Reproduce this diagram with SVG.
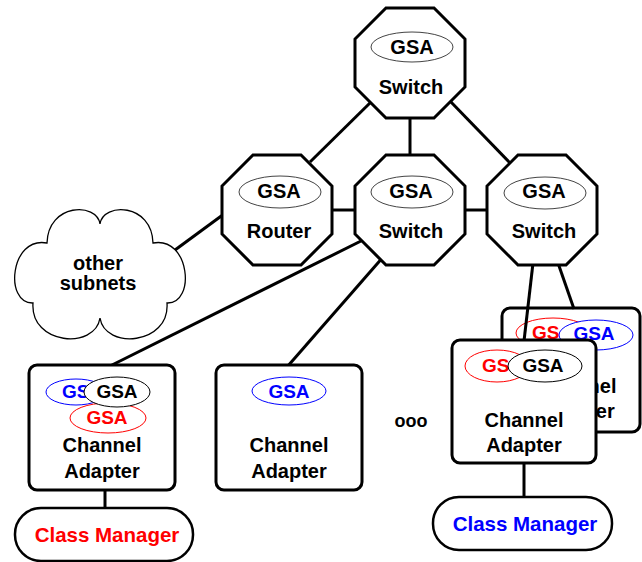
<svg xmlns="http://www.w3.org/2000/svg" xmlns:xlink="http://www.w3.org/1999/xlink" width="642" height="562" viewBox="0 0 642 562">
<style>
.oct{fill:#fff;stroke:#000;stroke-width:3;stroke-linejoin:miter}
.box{fill:#fff;stroke:#000;stroke-width:3}
.pill{fill:#fff;stroke:#000;stroke-width:2.5}
.cloud{fill:#fff;stroke:#000;stroke-width:1.3}
.conn line{stroke:#000;stroke-width:3}
.ge{fill:#fff;stroke:#444;stroke-width:1}
.er{fill:#fff;stroke:#f00;stroke-width:1}
.eb{fill:#fff;stroke:#00f;stroke-width:1}
.ek{fill:#fff;stroke:#000;stroke-width:1}
text{font-family:"Liberation Sans",Arial,sans-serif;font-weight:bold;font-size:20px;fill:#000}
.c{text-anchor:middle}
.s{font-size:19px}
.cm{font-size:20.5px}
.red{fill:#f00}
.blue{fill:#00f}
</style>
<defs>
<path id="oct" d="M-24,-55 L24,-55 L55,-24 L55,24 L24,55 L-24,55 L-55,24 L-55,-24 Z"/>
</defs>
<rect width="642" height="562" fill="#fff"/>

<g id="ca-back">
<rect class="box" x="502" y="308" width="138" height="124" rx="8"/>
<ellipse class="er" cx="553" cy="333" rx="37" ry="15"/>
<text class="red s" x="532" y="339">GS</text>
<ellipse class="eb" cx="596" cy="335" rx="37" ry="15"/>
<text class="blue s c" x="594" y="340">GSA</text>
<text class="c" x="577" y="393">Channel</text>
<text class="c" x="577" y="418">Adapter</text>
</g>

<g id="connectors" class="conn">
<line x1="372" y1="101" x2="310" y2="162"/>
<line x1="450" y1="101" x2="510" y2="163"/>
<line x1="410" y1="116" x2="410" y2="157"/>
<line x1="330" y1="210" x2="357" y2="210"/>
<line x1="463" y1="210" x2="489" y2="210"/>
<line x1="224" y1="214" x2="175" y2="250"/>
<line x1="365" y1="239" x2="108" y2="367"/>
<line x1="384" y1="256" x2="287" y2="367"/>
<line x1="533" y1="263" x2="524" y2="341"/>
<line x1="558" y1="263" x2="574" y2="309"/>
<line x1="105" y1="489" x2="105" y2="510"/>
<line x1="524" y1="462" x2="524" y2="499"/>
</g>

<g id="switch-top">
<use xlink:href="#oct" class="oct" transform="translate(410,63)"/>
<ellipse class="ge" cx="412" cy="47" rx="41" ry="15"/>
<text class="c" x="412" y="54">GSA</text>
<text class="c" x="411" y="94">Switch</text>
</g>

<g id="router">
<use xlink:href="#oct" class="oct" transform="translate(277,210)"/>
<ellipse class="ge" cx="280" cy="192" rx="41" ry="16"/>
<text class="c" x="279" y="198">GSA</text>
<text class="c" x="279" y="238">Router</text>
</g>

<g id="switch-mid">
<use xlink:href="#oct" class="oct" transform="translate(410,210)"/>
<ellipse class="ge" cx="412" cy="192" rx="41" ry="16"/>
<text class="c" x="411" y="198">GSA</text>
<text class="c" x="411" y="238">Switch</text>
</g>

<g id="switch-right">
<use xlink:href="#oct" class="oct" transform="translate(542,210)"/>
<ellipse class="ge" cx="545" cy="193" rx="41" ry="16"/>
<text class="c" x="544" y="198">GSA</text>
<text class="c" x="544" y="238">Switch</text>
</g>

<g id="cloud">
<path class="cloud" d="M100,224 C103,202 152,203 153,243 C190,236 196,304 167,303 C170,345 105,350 100,318 C95,350 30,345 33,303 C4,304 10,236 47,243 C48,203 97,202 100,224 Z"/>
<text class="c" x="98" y="270">other</text>
<text class="c" x="98" y="290">subnets</text>
</g>

<g id="ca-left">
<rect class="box" x="29" y="365" width="146" height="125" rx="8"/>
<ellipse class="eb" cx="76" cy="392" rx="30" ry="13"/>
<text class="blue s" x="62" y="398">GS</text>
<ellipse class="er" cx="108" cy="418" rx="38" ry="15"/>
<text class="red s c" x="107" y="424">GSA</text>
<ellipse class="ek" cx="117" cy="392" rx="33" ry="15"/>
<text class="s c" x="117" y="398">GSA</text>
<text class="c" x="102" y="452">Channel</text>
<text class="c" x="102" y="478">Adapter</text>
</g>

<g id="ca-mid">
<rect class="box" x="216" y="365" width="146" height="125" rx="8"/>
<ellipse class="eb" cx="289" cy="391" rx="37" ry="14"/>
<text class="blue s c" x="289" y="398">GSA</text>
<text class="c" x="289" y="452">Channel</text>
<text class="c" x="289" y="478">Adapter</text>
</g>

<g id="ellipsis">
<text class="c" x="411" y="427" style="font-size:18px">ooo</text>
</g>

<g id="ca-front">
<rect class="box" x="452" y="340" width="144" height="123" rx="8"/>
<ellipse class="er" cx="497" cy="366" rx="32" ry="16"/>
<text class="red s" x="482" y="372">GS</text>
<ellipse class="ek" cx="545" cy="366" rx="37" ry="16"/>
<text class="s c" x="543" y="372">GSA</text>
<text class="c" x="524" y="427">Channel</text>
<text class="c" x="524" y="452">Adapter</text>
</g>

<g id="cm-left">
<rect class="pill" x="15" y="508" width="178" height="53" rx="26"/>
<text class="red c cm" x="107" y="542">Class Manager</text>
</g>

<g id="cm-right">
<rect class="pill" x="433" y="497" width="179" height="53" rx="26"/>
<text class="blue c cm" x="525" y="531">Class Manager</text>
</g>
</svg>
